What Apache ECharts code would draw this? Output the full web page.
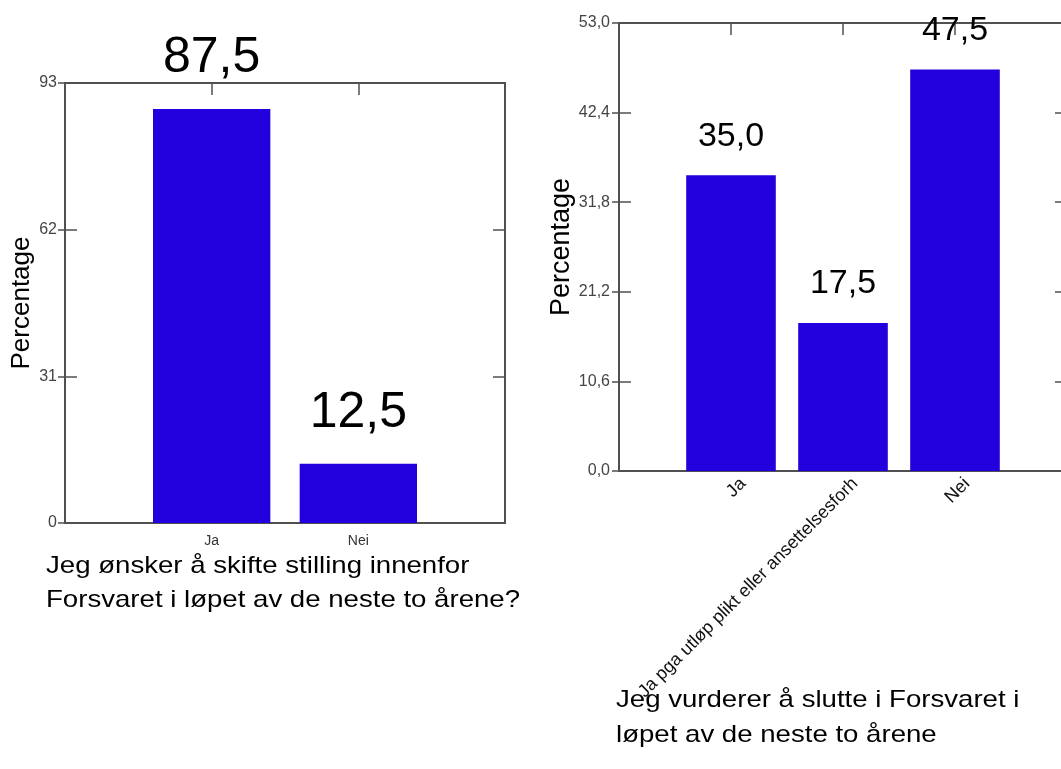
<!DOCTYPE html>
<html>
<head>
<meta charset="utf-8">
<script src="https://cdn.jsdelivr.net/npm/echarts@6/dist/echarts.min.js"></script>
<style>
html,body{margin:0;padding:0;background:#fff;}
#c{width:1061px;height:769px;}
</style>
</head>
<body>
<div id="c"></div>
<script>
// ---- data ----
const leftCategories = ['Ja', 'Nei'];
const leftValues = [87.5, 12.5];
const leftTicks = [0, 31, 62, 93];
const leftTitle = 'Jeg ønsker å skifte stilling innenfor\nForsvaret i løpet av de neste to årene?';

const rightCategories = ['Ja', 'Ja pga utløp plikt eller ansettelsesforh', 'Nei'];
const rightValues = [35.0, 17.5, 47.5];
const rightTicks = [0, 10.6, 21.2, 31.8, 42.4, 53.0];
const rightTitle = 'Jeg vurderer å slutte i Forsvaret i\nløpet av de neste to årene';

const yName = 'Percentage';

// ---- build ----
const FONT = '"Liberation Sans", Arial, sans-serif';
const BAR = '#2200dd';
const LINE = '#505050';
const pad = a => [''].concat(a, ['']);
const padV = a => [null].concat(a, [null]);
const comma1 = v => Number(v).toFixed(1).replace('.', ',');

function xAx(gi, cats, pos, opts) {
  return Object.assign({
    type: 'category', gridIndex: gi, position: pos, data: pad(cats), boundaryGap: false,
    axisLine: { show: false, onZero: false },
    axisTick: { show: false },
    axisLabel: { show: false },
    splitLine: { show: false }
  }, opts || {});
}
function yAx(gi, ticks, pos, opts) {
  return Object.assign({
    type: 'value', gridIndex: gi, position: pos,
    min: ticks[0], max: ticks[ticks.length - 1], interval: ticks[1] - ticks[0],
    axisLine: { show: false, onZero: false },
    axisTick: { show: false },
    axisLabel: { show: false },
    splitLine: { show: false }
  }, opts || {});
}
const tickStyle = { color: LINE, width: 1.5 };
const catTick = { show: true, inside: true, length: 12, lineStyle: tickStyle, interval: (i, v) => v !== '' };

function titleText(text, x, y, lh) {
  return {
    type: 'text', x: x, y: y, scaleX: 1.15, scaleY: 1, silent: true,
    style: { text: text, font: '24px ' + FONT, fill: '#000', lineHeight: lh,
             textAlign: 'left', textVerticalAlign: 'top' }
  };
}

const option = {
  animation: false,
  backgroundColor: '#fff',
  textStyle: { fontFamily: FONT },
  graphic: [
    titleText(leftTitle, 46, 549, 34),
    titleText(rightTitle, 616, 683, 35)
  ],
  grid: [
    { left: 65, top: 83, width: 440, height: 440, show: true, borderColor: LINE, borderWidth: 2,
      containLabel: false, outerBoundsMode: 'none' },
    { left: 619, top: 23, width: 448, height: 448, show: true, borderColor: LINE, borderWidth: 2,
      containLabel: false, outerBoundsMode: 'none' }
  ],
  xAxis: [
    xAx(0, leftCategories, 'bottom', {
      axisLabel: { show: true, interval: 0, margin: 11, fontSize: 14, color: '#333', fontFamily: FONT }
    }),
    xAx(0, leftCategories, 'top', { axisTick: catTick }),
    xAx(1, rightCategories, 'bottom', {
      axisLabel: { show: true, interval: 0, rotate: 45, margin: -2, fontSize: 18, color: '#111', fontFamily: FONT,
                   verticalAlign: 'top', lineHeight: 34 }
    }),
    xAx(1, rightCategories, 'top', { axisTick: catTick })
  ],
  yAxis: [
    yAx(0, leftTicks, 'left', {
      name: yName, nameLocation: 'middle', nameGap: 30, nameRotate: 90, nameMoveOverlap: false,
      nameTextStyle: { fontSize: 26, color: '#000', fontFamily: FONT },
      axisTick: { show: true, inside: true, length: 12, lineStyle: tickStyle },
      axisLabel: { show: true, margin: 8, fontSize: 16, color: '#444', fontFamily: FONT }
    }),
    yAx(0, leftTicks, 'left', {
      axisTick: { show: true, inside: false, length: 7, lineStyle: tickStyle }
    }),
    yAx(0, leftTicks, 'right', {
      axisTick: { show: true, inside: true, length: 12, lineStyle: tickStyle }
    }),
    yAx(1, rightTicks, 'left', {
      name: yName, nameLocation: 'middle', nameGap: 44, nameRotate: 90, nameMoveOverlap: false,
      nameTextStyle: { fontSize: 27, color: '#000', fontFamily: FONT },
      axisTick: { show: true, inside: true, length: 12, lineStyle: tickStyle },
      axisLabel: { show: true, margin: 9, fontSize: 16, color: '#444', fontFamily: FONT, formatter: v => comma1(v) }
    }),
    yAx(1, rightTicks, 'left', {
      axisTick: { show: true, inside: false, length: 7, lineStyle: tickStyle }
    }),
    yAx(1, rightTicks, 'right', {
      axisTick: { show: true, inside: true, length: 12, lineStyle: tickStyle }
    })
  ],
  series: [
    {
      type: 'bar', xAxisIndex: 0, yAxisIndex: 0, data: padV(leftValues), barWidth: '80%',
      itemStyle: { color: BAR },
      label: { show: true, position: 'top', distance: 26, fontSize: 50, color: '#000', fontFamily: FONT,
               formatter: p => comma1(p.value) }
    },
    {
      type: 'bar', xAxisIndex: 2, yAxisIndex: 3, data: padV(rightValues), barWidth: '80%',
      itemStyle: { color: BAR },
      label: { show: true, position: 'top', distance: 22, fontSize: 34, color: '#000', fontFamily: FONT,
               formatter: p => comma1(p.value) }
    }
  ]
};
const chart = echarts.init(document.getElementById('c'), null, { renderer: 'canvas' });
chart.setOption(option);
</script>
</body>
</html>
